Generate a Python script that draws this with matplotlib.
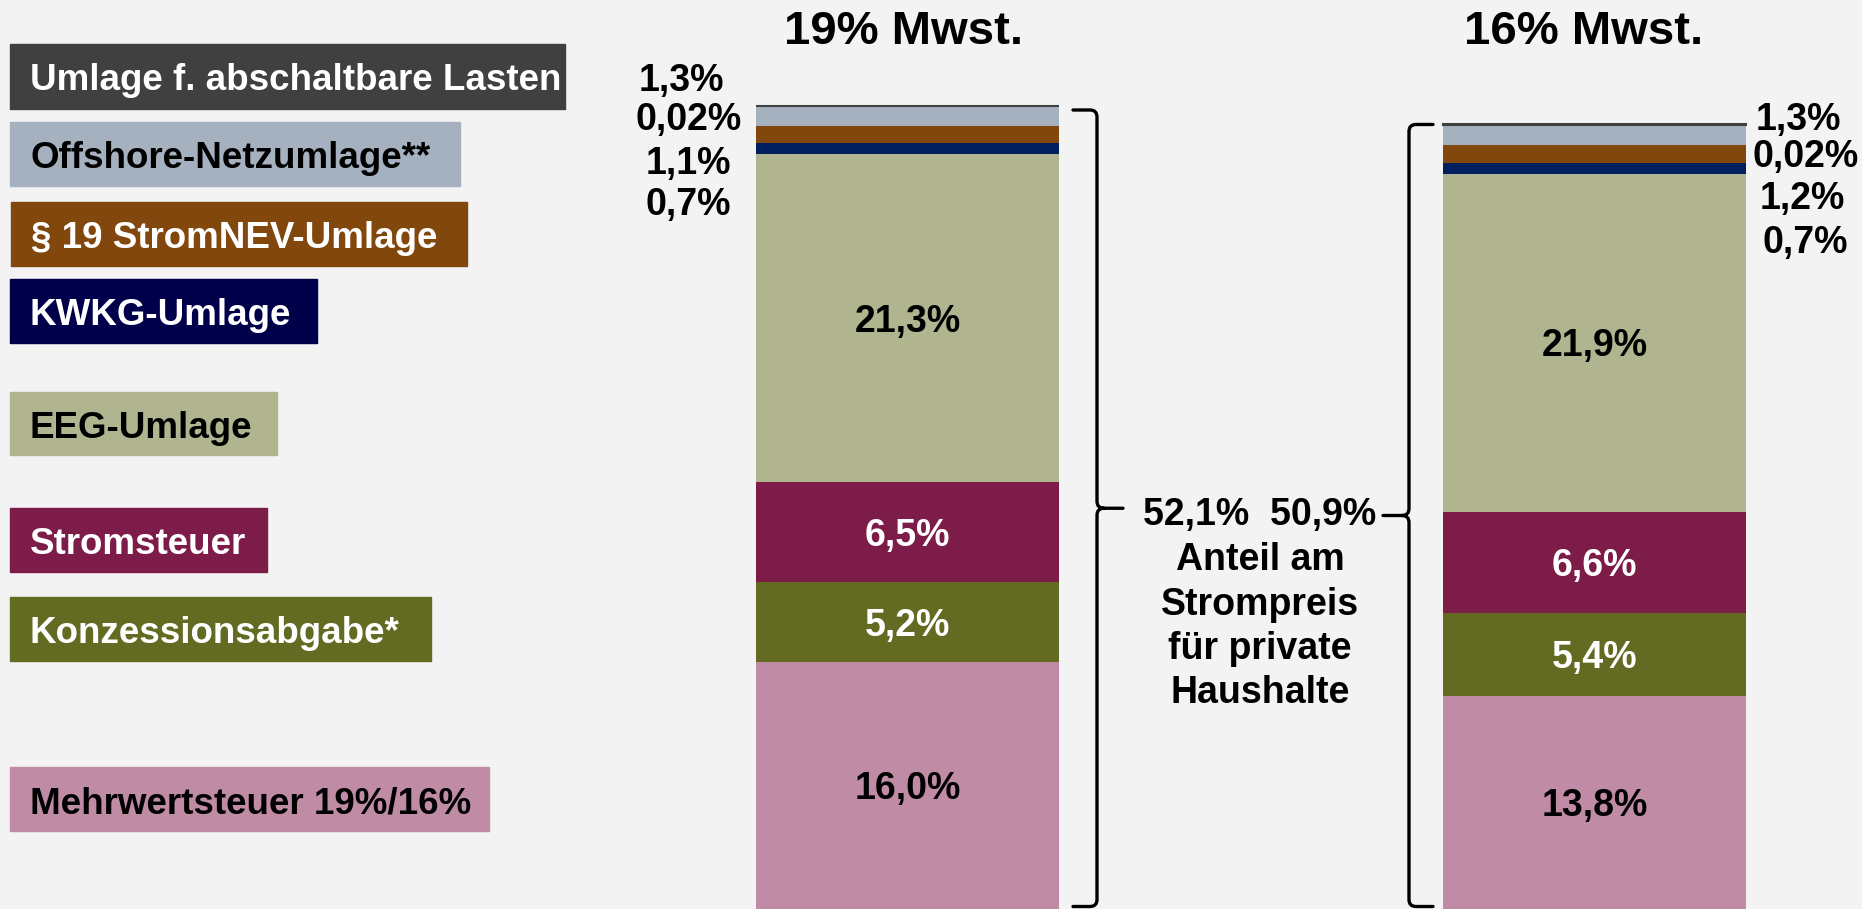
import matplotlib.pyplot as plt
from matplotlib.patches import Rectangle, PathPatch
from matplotlib.path import Path

plt.rcParams['font.family'] = ['Liberation Sans', 'DejaVu Sans']
plt.rcParams['font.weight'] = 'bold'

# data (stack order bottom -> top)
scenarios = ['19% Mwst.', '16% Mwst.']
components = ['Mehrwertsteuer 19%/16%', 'Konzessionsabgabe*', 'Stromsteuer', 'EEG-Umlage',
              'KWKG-Umlage', '§ 19 StromNEV-Umlage', 'Offshore-Netzumlage**',
              'Umlage f. abschaltbare Lasten']
share_19 = [16.0, 5.2, 6.5, 21.3, 0.7, 1.1, 1.3, 0.02]
share_16 = [13.8, 5.4, 6.6, 21.9, 0.7, 1.2, 1.3, 0.02]
total_labels = ['52,1%', '50,9%']
brace_lines = ['Anteil am', 'Strompreis', 'für private', 'Haushalte']

bar_colors = ['#c08ba5', '#626b21', '#7d1c49', '#b0b48f', '#001f5f', '#82470d', '#a6b1c0', '#404040']
inner_text_colors = ['black', 'white', 'white', 'black']

# legend boxes, top -> bottom (pixel layout)
legend_order = [7, 6, 5, 4, 3, 2, 1, 0]
legend_colors = ['#404040', '#a6b1c0', '#82470d', '#00004a', '#b0b48f', '#7d1c49', '#626b21', '#c08ba5']
legend_text_colors = ['white', 'black', 'white', 'white', 'black', 'white', 'white', 'black']
legend_boxes = [(10, 44, 565, 109), (10, 122, 460, 186), (11, 202, 467, 266), (10, 279, 317, 343),
                (10, 392, 277, 455), (10, 508, 267, 572), (10, 597, 431, 661), (10, 767, 489, 831)]

W, H = 1862, 909
FS = 27
HALF_CAP = 0.716 * FS * 100 / 72 / 2  # half digit height in px

fig = plt.figure(figsize=(W / 100, H / 100), dpi=100, facecolor='#f3f3f3')


def fx(x, y):
    return x / W, 1 - y / H


def fmt(v):
    s = f'{v:.2f}' if v < 0.1 else f'{v:.1f}'
    return s.replace('.', ',') + '%'


ax = fig.add_axes([0, 0, 1, 1])
ax.axis('off')
ytop = sum(share_19) * H / (H - 106)
ax.set_xlim(0, W)
ax.set_ylim(0, ytop)
ppu = H / ytop  # pixels per percent

bar_x = [907.5, 1594.5]
bar_w = 303
for xc, shares in zip(bar_x, [share_19, share_16]):
    bottom = 0
    for i, v in enumerate(shares):
        lw = 1.5 if v < 0.1 else 0
        ax.bar(xc, v, bar_w, bottom=bottom, color=bar_colors[i], edgecolor=bar_colors[i], linewidth=lw)
        if i < 4:
            ax.text(xc, bottom + v / 2 - HALF_CAP / ppu, fmt(v), ha='center', va='baseline',
                    fontsize=FS, color=inner_text_colors[i])
        bottom += v

# small segment labels beside the bars (Offshore, abschaltbar, §19, KWKG)
small_idx = [6, 7, 5, 4]
left_pos = [(681, 78), (689, 117), (688, 161), (688, 202)]
right_pos = [(1798, 117), (1806, 154), (1802, 196), (1805, 240)]
for shares, pos in [(share_19, left_pos), (share_16, right_pos)]:
    for i, (px, py) in zip(small_idx, pos):
        fig.text(*fx(px, py + HALF_CAP), fmt(shares[i]), ha='center', va='baseline', fontsize=FS)

# titles
fig.text(*fx(903, 44), scenarios[0], ha='center', va='baseline', fontsize=34)
fig.text(*fx(1584, 44), scenarios[1], ha='center', va='baseline', fontsize=34)

# legend boxes
for k, (x0, y0, x1, y1) in enumerate(legend_boxes):
    fig.patches.append(Rectangle(fx(x0, y1), (x1 - x0) / W, (y1 - y0) / H,
                                 transform=fig.transFigure, color=legend_colors[k], zorder=1))
    fig.text(*fx(x0 + 20, y0 + 46), components[legend_order[k]], ha='left', va='baseline',
             fontsize=26.5, color=legend_text_colors[k], zorder=2)


def brace(x, y0, y1, d, tip=26, hook=24, r=7):
    ry = r / ppu
    ym = (y0 + y1) / 2
    verts = [(x - d * hook, y1), (x - d * r, y1), (x, y1), (x, y1 - ry), (x, ym + ry),
             (x, ym), (x + d * r, ym), (x + d * tip, ym),
             (x - d * hook, y0), (x - d * r, y0), (x, y0), (x, y0 + ry), (x, ym - ry),
             (x, ym), (x + d * r, ym)]
    codes = [Path.MOVETO, Path.LINETO, Path.CURVE3, Path.CURVE3, Path.LINETO,
             Path.CURVE3, Path.CURVE3, Path.LINETO,
             Path.MOVETO, Path.LINETO, Path.CURVE3, Path.CURVE3, Path.LINETO,
             Path.CURVE3, Path.CURVE3]
    ax.add_patch(PathPatch(Path(verts, codes), fill=False, lw=2.4, color='black', capstyle='round'))


brace(1097, 2.5 / ppu, sum(share_19) - 4 / ppu, 1)
brace(1409, 2.5 / ppu, sum(share_16), -1)

fig.text(*fx(1260, 512 + HALF_CAP), '  '.join(total_labels), ha='center', va='baseline', fontsize=FS)
for k, line in enumerate(brace_lines):
    fig.text(*fx(1260, 557 + k * 44.3 + HALF_CAP), line, ha='center', va='baseline', fontsize=FS)

fig.savefig('out.png', dpi=100, facecolor='#f3f3f3')
